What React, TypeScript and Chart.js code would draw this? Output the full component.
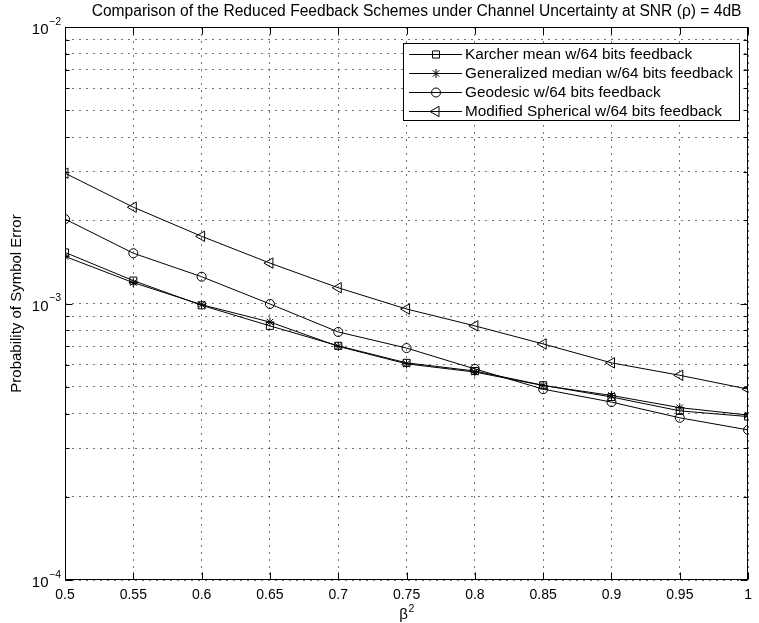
import React, { useEffect, useRef } from 'react';
import { Chart, registerables } from 'chart.js';

Chart.register(...registerables);

// ---------------- data ----------------
const betaSquared = [0.5, 0.55, 0.6, 0.65, 0.7, 0.75, 0.8, 0.85, 0.9, 0.95, 1.0];
const karcherMean = [1.53e-3, 1.21e-3, 0.985e-3, 8.3e-4, 7.03e-4, 6.1e-4, 5.7e-4, 5.06e-4, 4.59e-4, 4.09e-4, 3.9e-4];
const generalizedMedian = [1.48e-3, 1.19e-3, 0.99e-3, 8.57e-4, 7.0e-4, 6.05e-4, 5.65e-4, 5.05e-4, 4.65e-4, 4.2e-4, 3.95e-4];
const geodesic = [2.02e-3, 1.52e-3, 1.25e-3, 9.96e-4, 7.89e-4, 6.9e-4, 5.8e-4, 4.9e-4, 4.4e-4, 3.86e-4, 3.49e-4];
const modifiedSpherical = [2.96e-3, 2.23e-3, 1.75e-3, 1.40e-3, 1.14e-3, 9.55e-4, 8.3e-4, 7.14e-4, 6.1e-4, 5.5e-4, 4.9e-4];

const seriesLabels = [
  'Karcher mean w/64 bits feedback',
  'Generalized median w/64 bits feedback',
  'Geodesic w/64 bits feedback',
  'Modified Spherical w/64 bits feedback',
];

const xTickValues = [0.5, 0.55, 0.6, 0.65, 0.7, 0.75, 0.8, 0.85, 0.9, 0.95, 1.0];
const yDecades = [-4, -3, -2];
const yMinorMultipliers = [1, 2, 3, 4, 5, 6, 7, 8, 9];

const titleText = 'Comparison of the Reduced Feedback Schemes under Channel Uncertainty at SNR (\u03c1) = 4dB';
const yAxisTitle = 'Probability of Symbol Error';
const xAxisTitleBase = '\u03b2';
const xAxisTitleSup = '2';

// ---------------- helpers ----------------
const FONT = "'Liberation Sans', Arial, Helvetica, sans-serif";

const yAllTicks: number[] = [];
for (let i = 0; i < yDecades.length; i++) {
  const d = yDecades[i];
  if (i === yDecades.length - 1) {
    yAllTicks.push(Math.pow(10, d));
  } else {
    for (const m of yMinorMultipliers) yAllTicks.push(m * Math.pow(10, d));
  }
}

function fmtX(v: number) {
  return String(parseFloat(v.toFixed(2)));
}

function drawMarker(ctx: CanvasRenderingContext2D, style: string, x: number, y: number, r: number, rotation: number) {
  ctx.beginPath();
  if (style === 'rect') {
    const s = Math.SQRT1_2 * r;
    ctx.rect(x - s, y - s, 2 * s, 2 * s);
  } else if (style === 'circle') {
    ctx.arc(x, y, r, 0, Math.PI * 2);
  } else if (style === 'triangle') {
    let rad = (rotation * Math.PI) / 180;
    ctx.moveTo(x + Math.sin(rad) * r, y - Math.cos(rad) * r);
    rad += (2 * Math.PI) / 3;
    ctx.lineTo(x + Math.sin(rad) * r, y - Math.cos(rad) * r);
    rad += (2 * Math.PI) / 3;
    ctx.lineTo(x + Math.sin(rad) * r, y - Math.cos(rad) * r);
    ctx.closePath();
  } else if (style === 'star') {
    for (let k = 0; k < 4; k++) {
      const a = (k * Math.PI) / 4;
      ctx.moveTo(x + Math.cos(a) * r, y + Math.sin(a) * r);
      ctx.lineTo(x - Math.cos(a) * r, y - Math.sin(a) * r);
    }
  }
  ctx.stroke();
}

const markerStyles = ['rect', 'star', 'circle', 'triangle'];
const markerRadii = [5, 4.5, 4.5, 6];
const markerRotations = [0, 0, 0, -90];

const decorPlugin = {
  id: 'matlabDecor',
  afterDraw(chart: any) {
    const { ctx, chartArea: a, scales } = chart;
    const xs = scales.x;
    const ys = scales.y;
    ctx.save();
    ctx.strokeStyle = '#000';
    ctx.fillStyle = '#000';
    ctx.lineWidth = 1;
    ctx.setLineDash([]);

    const L = Math.round(a.left) + 0.5;
    const R = Math.round(a.right) - 0.5;
    const T = Math.round(a.top) + 0.5;
    const B = Math.round(a.bottom) - 0.5;

    // tick marks (inside)
    ctx.beginPath();
    for (const v of xTickValues) {
      const px = Math.round(xs.getPixelForValue(v)) + 0.5;
      ctx.moveTo(px, B);
      ctx.lineTo(px, B - 7);
      ctx.moveTo(px, T);
      ctx.lineTo(px, T + 7);
    }
    for (const v of yAllTicks) {
      const py = Math.round(ys.getPixelForValue(v)) + 0.5;
      const isMajor = Math.abs(Math.log10(v) - Math.round(Math.log10(v))) < 1e-9;
      const len = isMajor ? 7 : 4;
      ctx.moveTo(L, py);
      ctx.lineTo(L + len, py);
      ctx.moveTo(R, py);
      ctx.lineTo(R - len, py);
    }
    ctx.stroke();

    // box
    ctx.strokeRect(L, T, R - L, B - T);

    // y tick labels 10^k
    ctx.textBaseline = 'middle';
    for (const d of yDecades) {
      const py = ys.getPixelForValue(Math.pow(10, d));
      const sup = '\u2212' + Math.abs(d);
      ctx.font = `10.5px ${FONT}`;
      const supW = ctx.measureText(sup).width;
      const supRight = a.left - 4;
      ctx.textAlign = 'right';
      ctx.fillText(sup, supRight, py - 5);
      ctx.font = `15px ${FONT}`;
      ctx.fillText('10', supRight - supW - 0.5, py + 3);
    }

    // title
    ctx.font = `15.6px ${FONT}`;
    ctx.textAlign = 'center';
    ctx.textBaseline = 'middle';
    ctx.fillText(titleText, (a.left + a.right) / 2 + 10, 12);

    // y axis title
    ctx.save();
    ctx.translate(17, (a.top + a.bottom) / 2);
    ctx.rotate(-Math.PI / 2);
    ctx.font = `15px ${FONT}`;
    ctx.textAlign = 'center';
    ctx.fillText(yAxisTitle, 0, 0);
    ctx.restore();

    // x axis title
    ctx.font = `15px ${FONT}`;
    const bw = ctx.measureText(xAxisTitleBase).width;
    ctx.font = `10.5px ${FONT}`;
    const sw = ctx.measureText(xAxisTitleSup).width;
    const cx = (a.left + a.right) / 2;
    const startX = cx - (bw + sw) / 2;
    ctx.textAlign = 'left';
    ctx.font = `15px ${FONT}`;
    ctx.fillText(xAxisTitleBase, startX, 615);
    ctx.font = `10.5px ${FONT}`;
    ctx.fillText(xAxisTitleSup, startX + bw + 0.5, 609);

    // legend
    const datasets = chart.data.datasets;
    ctx.font = `15.3px ${FONT}`;
    let maxW = 0;
    for (const ds of datasets) maxW = Math.max(maxW, ctx.measureText(ds.label).width);
    const rowH = 19;
    const boxW = Math.round(62 + maxW + 7);
    const boxH = Math.round(rowH * datasets.length + 2);
    const boxR = Math.round(a.right) - 8;
    const boxL = boxR - boxW;
    const boxT = Math.round(a.top) + 16;
    ctx.fillStyle = '#fff';
    ctx.fillRect(boxL, boxT, boxW, boxH);
    ctx.strokeStyle = '#000';
    ctx.strokeRect(boxL + 0.5, boxT + 0.5, boxW - 1, boxH - 1);
    ctx.fillStyle = '#000';
    ctx.textAlign = 'left';
    ctx.textBaseline = 'middle';
    datasets.forEach((ds: any, i: number) => {
      const ry = Math.round(boxT + 11 + i * rowH) + 0.5;
      ctx.beginPath();
      ctx.moveTo(boxL + 6, ry);
      ctx.lineTo(boxL + 59, ry);
      ctx.stroke();
      drawMarker(ctx, markerStyles[i], boxL + 33, ry, markerRadii[i], markerRotations[i]);
      ctx.fillText(ds.label, boxL + 62, ry + 0.5);
    });

    ctx.restore();
  },
};

const seriesValues = [karcherMean, generalizedMedian, geodesic, modifiedSpherical];

export default function App() {
  const canvasRef = useRef<HTMLCanvasElement | null>(null);

  useEffect(() => {
    document.body.style.margin = '0';
    const canvas = canvasRef.current;
    if (!canvas) return;
    const datasets = seriesValues.map((vals, i) => ({
      label: seriesLabels[i],
      data: betaSquared.map((x, j) => ({ x, y: vals[j] })),
      borderColor: '#000',
      backgroundColor: 'rgba(0,0,0,0)',
      borderWidth: 1,
      pointStyle: markerStyles[i] as any,
      pointRadius: markerRadii[i],
      pointRotation: markerRotations[i],
      pointBorderWidth: 1,
      pointBorderColor: '#000',
      pointBackgroundColor: 'rgba(0,0,0,0)',
      tension: 0,
      fill: false,
    }));

    const chart = new Chart(canvas, {
      type: 'line',
      data: { datasets },
      options: {
        responsive: false,
        animation: false,
        layout: { padding: { left: 0, right: 7, top: 27, bottom: 0 } },
        plugins: {
          legend: { display: false },
          title: { display: false },
          tooltip: { enabled: false },
        },
        scales: {
          x: {
            type: 'linear',
            min: 0.5,
            max: 1,
            afterBuildTicks: (s: any) => {
              s.ticks = xTickValues.map((v) => ({ value: v }));
            },
            afterFit: (s: any) => {
              s.height = 43;
            },
            ticks: {
              autoSkip: false,
              maxRotation: 0,
              padding: 7,
              color: '#000',
              font: { family: FONT, size: 14 },
              callback: (v: any) => fmtX(Number(v)),
            },
            grid: { color: 'rgba(0,0,0,0.55)', lineWidth: 1, drawTicks: false },
            border: { display: false, dash: [2, 5] },
          },
          y: {
            type: 'logarithmic',
            min: 1e-4,
            max: 1e-2,
            afterBuildTicks: (s: any) => {
              s.ticks = yAllTicks.map((v) => ({ value: v }));
            },
            afterFit: (s: any) => {
              s.width = 65;
            },
            ticks: { display: false, autoSkip: false },
            grid: { color: 'rgba(0,0,0,0.55)', lineWidth: 1, drawTicks: false },
            border: { display: false, dash: [2, 5] },
          },
        },
      },
      plugins: [decorPlugin],
    });
    return () => chart.destroy();
  }, []);

  return (
    <div style={{ width: 759, height: 623, background: '#fff' }}>
      <canvas ref={canvasRef} width={759} height={623} style={{ display: 'block' }} />
    </div>
  );
}
